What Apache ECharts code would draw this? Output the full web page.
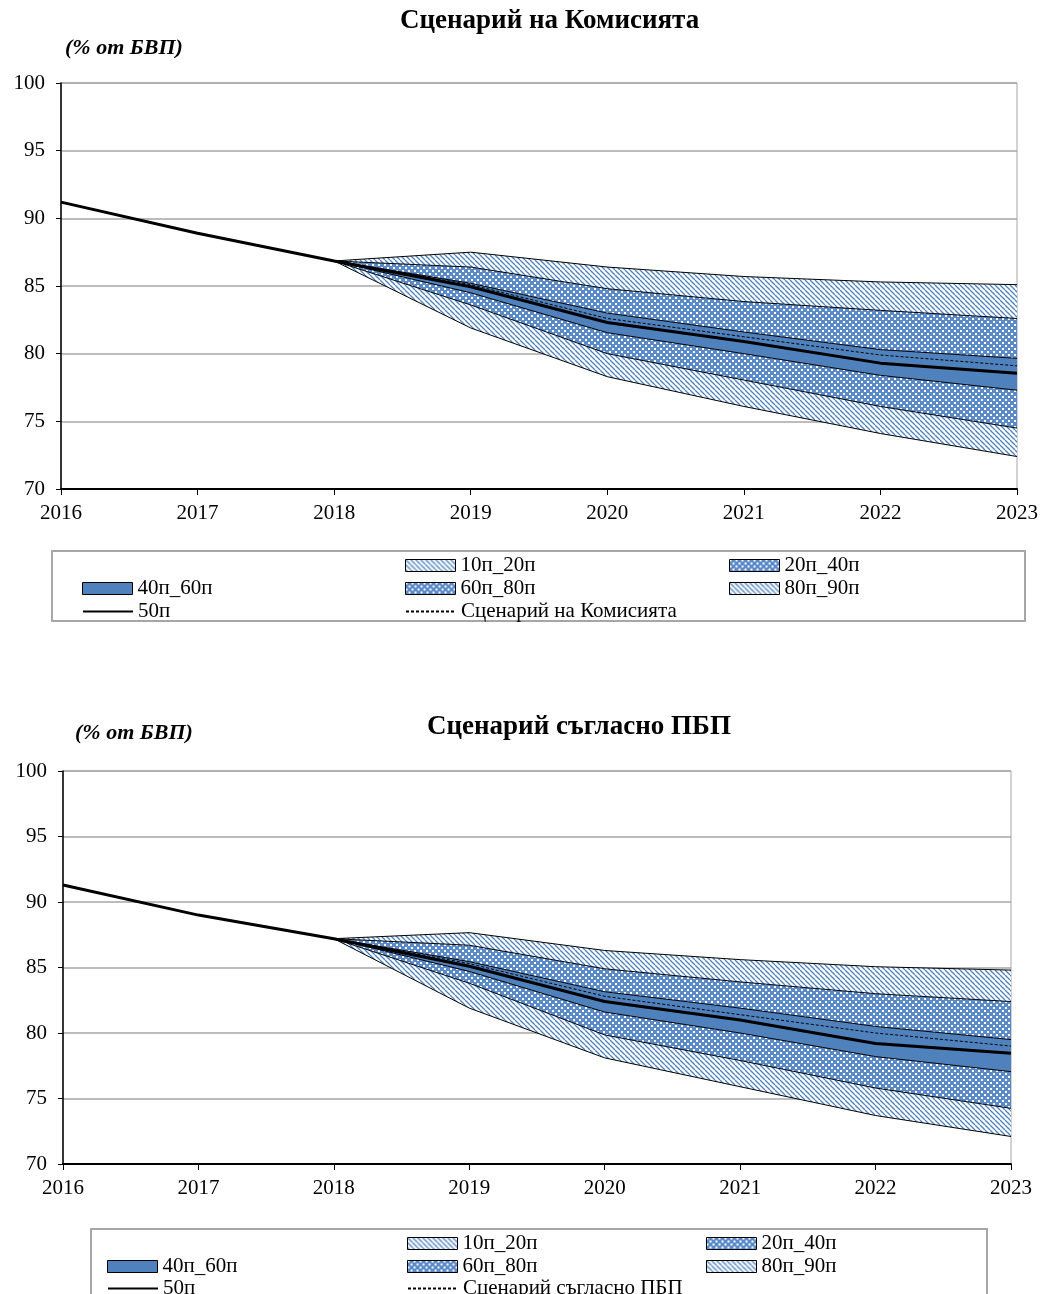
<!DOCTYPE html>
<html>
<head>
<meta charset="utf-8">
<script src="https://cdn.jsdelivr.net/npm/echarts@6/dist/echarts.min.js"></script>
<style>
  body { margin: 0; background: #fff; }
  #top { width: 1042px; height: 650px; }
  #bottom { width: 1042px; height: 644px; }
</style>
</head>
<body>
<div id="top"></div>
<div id="bottom"></div>
<script>
// x axis
const years = ['2016', '2017', '2018', '2019', '2020', '2021', '2022', '2023'];
const yTicks = [70, 75, 80, 85, 90, 95, 100];

// Сценарий на Комисията
const komMedian = [91.2, 88.9, 86.85, 84.95, 82.3, 80.9, 79.3, 78.55];
const komScenario = [null, null, 86.85, 85.1, 82.6, 81.25, 79.9, 79.1];
const komP10 = [null, null, 86.85, 81.9, 78.3, 76.1, 74.1, 72.4];
const komP20 = [null, null, 86.85, 83.6, 80.0, 78.05, 76.1, 74.5];
const komP40 = [null, null, 86.85, 84.5, 81.55, 80.0, 78.4, 77.3];
const komP60 = [null, null, 86.85, 85.2, 83.0, 81.6, 80.3, 79.65];
const komP80 = [null, null, 86.85, 86.4, 84.8, 83.85, 83.2, 82.6];
const komP90 = [null, null, 86.85, 87.5, 86.4, 85.7, 85.3, 85.1];

// Сценарий съгласно ПБП
const pbpMedian = [91.3, 89.0, 87.2, 85.1, 82.4, 81.0, 79.2, 78.45];
const pbpScenario = [null, null, 87.2, 85.3, 82.8, 81.4, 80.0, 79.0];
const pbpP10 = [null, null, 87.2, 81.9, 78.1, 75.9, 73.7, 72.1];
const pbpP20 = [null, null, 87.2, 83.8, 79.85, 77.9, 75.8, 74.25];
const pbpP40 = [null, null, 87.2, 84.7, 81.6, 80.0, 78.2, 77.05];
const pbpP60 = [null, null, 87.2, 85.45, 83.15, 81.9, 80.5, 79.5];
const pbpP80 = [null, null, 87.2, 86.7, 84.9, 83.9, 83.0, 82.4];
const pbpP90 = [null, null, 87.2, 87.66, 86.3, 85.6, 85.06, 84.8];

const blue = '#4f81bd';
const font = 'Liberation Serif';

// fill patterns like the excel ones
function hatchPattern() {
  const c = document.createElement('canvas');
  c.width = 5; c.height = 5;
  const g = c.getContext('2d');
  g.fillStyle = '#fff';
  g.fillRect(0, 0, 5, 5);
  g.strokeStyle = blue;
  g.lineWidth = 1.3;
  [-5, 0, 5].forEach(o => {
    g.beginPath(); g.moveTo(o, 0); g.lineTo(o + 5, 5); g.stroke();
  });
  return { image: c, repeat: 'repeat' };
}

function dotPattern() {
  const c = document.createElement('canvas');
  c.width = 6; c.height = 6;
  const g = c.getContext('2d');
  g.fillStyle = '#5b8ac8';
  g.fillRect(0, 0, 6, 6);
  g.fillStyle = '#ffffff';
  g.fillRect(0, 0, 2, 2);
  g.fillRect(3, 3, 2, 2);
  return { image: c, repeat: 'repeat' };
}

function diff(a, b) {
  return a.map((v, i) => v == null ? null : +(v - b[i]).toFixed(3));
}

function buildOption(cfg) {
  const hatch = hatchPattern();
  const dots = dotPattern();
  const bands = [
    { name: '10п_20п', data: diff(cfg.p20, cfg.p10), color: hatch },
    { name: '20п_40п', data: diff(cfg.p40, cfg.p20), color: dots },
    { name: '40п_60п', data: diff(cfg.p60, cfg.p40), color: blue },
    { name: '60п_80п', data: diff(cfg.p80, cfg.p60), color: dots },
    { name: '80п_90п', data: diff(cfg.p90, cfg.p80), color: hatch }
  ];

  const series = [{
    name: 'base',
    type: 'line',
    stack: 'fan',
    data: cfg.p10,
    symbol: 'none',
    lineStyle: { color: '#000', width: 1 },
    silent: true
  }];
  bands.forEach(b => {
    series.push({
      name: b.name,
      type: 'line',
      stack: 'fan',
      data: b.data,
      symbol: 'none',
      itemStyle: { color: '#000' },
      lineStyle: { color: '#000', width: 1 },
      areaStyle: { color: b.color, opacity: 1 },
      silent: true
    });
  });
  series.push({
    name: cfg.scenName,
    type: 'line',
    data: cfg.scenario,
    symbol: 'none',
    itemStyle: { color: '#000' },
    lineStyle: { color: '#000', width: 1, type: [3, 2] },
    z: 5
  });
  series.push({
    name: '50п',
    type: 'line',
    data: cfg.median,
    symbol: 'none',
    itemStyle: { color: '#000' },
    lineStyle: { color: '#000', width: 3 },
    z: 6
  });

  const bandColor = {};
  bands.forEach(b => { bandColor[b.name] = b.color; });

  const cells = [
    ['10п_20п', 1, 0], ['20п_40п', 2, 0],
    ['40п_60п', 0, 1], ['60п_80п', 1, 1], ['80п_90п', 2, 1],
    ['50п', 0, 2], [cfg.scenName, 1, 2]
  ];
  const legends = cells.map(([name, col, row]) => {
    let item;
    if (bandColor[name]) {
      item = { name: name, icon: 'rect', itemStyle: { color: bandColor[name], borderColor: '#000', borderWidth: 1, opacity: 1 } };
    } else {
      item = { name: name, itemStyle: { opacity: 0 } };
    }
    return {
      data: [item],
      left: cfg.legCols[col],
      top: cfg.legRows[row] - 11,
      padding: 0,
      itemWidth: 50,
      itemHeight: 12,
      selectedMode: false,
      textStyle: { fontFamily: font, fontSize: 21, color: '#000' }
    };
  });

  return {
    animation: false,
    title: [
      {
        text: cfg.title, left: cfg.titleLeft, top: cfg.titleTop, padding: 0,
        textStyle: { fontFamily: font, fontSize: 27, fontWeight: 'bold', color: '#000' }
      },
      {
        text: '(% от БВП)', left: cfg.unitLeft, top: cfg.unitTop, padding: 0,
        textStyle: { fontFamily: font, fontSize: 22, fontWeight: 'bold', fontStyle: 'italic', color: '#000' }
      }
    ],
    legend: legends,
    graphic: [{
      type: 'rect',
      shape: cfg.legBox,
      style: { fill: 'none', stroke: '#a6a6a6', lineWidth: 2 },
      z: -1
    }],
    grid: {
      left: cfg.grid.left, top: cfg.grid.top, width: cfg.grid.width, height: cfg.grid.height,
      show: true, borderColor: '#a6a6a6', borderWidth: 1
    },
    xAxis: {
      type: 'category',
      data: years,
      boundaryGap: false,
      axisLine: { lineStyle: { color: '#000', width: 2 } },
      axisTick: { show: true, length: 6, lineStyle: { color: '#000' } },
      axisLabel: { fontFamily: font, fontSize: 21, color: '#000', margin: 14 },
      splitLine: { show: false }
    },
    yAxis: {
      type: 'value',
      min: yTicks[0],
      max: yTicks[yTicks.length - 1],
      interval: 5,
      axisLine: { show: true, lineStyle: { color: '#000', width: 1.5 } },
      axisTick: { show: true, length: 5, lineStyle: { color: '#000' } },
      axisLabel: { fontFamily: font, fontSize: 21, color: '#000', margin: 16 },
      splitLine: { lineStyle: { color: '#a6a6a6', width: 1.5 } }
    },
    series: series
  };
}

const topChart = echarts.init(document.getElementById('top'));
topChart.setOption(buildOption({
  title: 'Сценарий на Комисията', titleLeft: 400, titleTop: 8,
  unitLeft: 65, unitTop: 37,
  scenName: 'Сценарий на Комисията',
  median: komMedian, scenario: komScenario,
  p10: komP10, p20: komP20, p40: komP40, p60: komP60, p80: komP80, p90: komP90,
  grid: { left: 61, top: 83, width: 956, height: 406 },
  legBox: { x: 52, y: 551, width: 973, height: 70 },
  legCols: [82, 405, 729],
  legRows: [566, 589, 612]
}));

const bottomChart = echarts.init(document.getElementById('bottom'));
bottomChart.setOption(buildOption({
  title: 'Сценарий съгласно ПБП', titleLeft: 427, titleTop: 64,
  unitLeft: 75, unitTop: 72,
  scenName: 'Сценарий съгласно ПБП',
  median: pbpMedian, scenario: pbpScenario,
  p10: pbpP10, p20: pbpP20, p40: pbpP40, p60: pbpP60, p80: pbpP80, p90: pbpP90,
  grid: { left: 63, top: 121, width: 948, height: 393 },
  legBox: { x: 91, y: 579, width: 896, height: 80 },
  legCols: [107, 407, 706],
  legRows: [594, 617, 639]
}));
</script>
</body>
</html>
